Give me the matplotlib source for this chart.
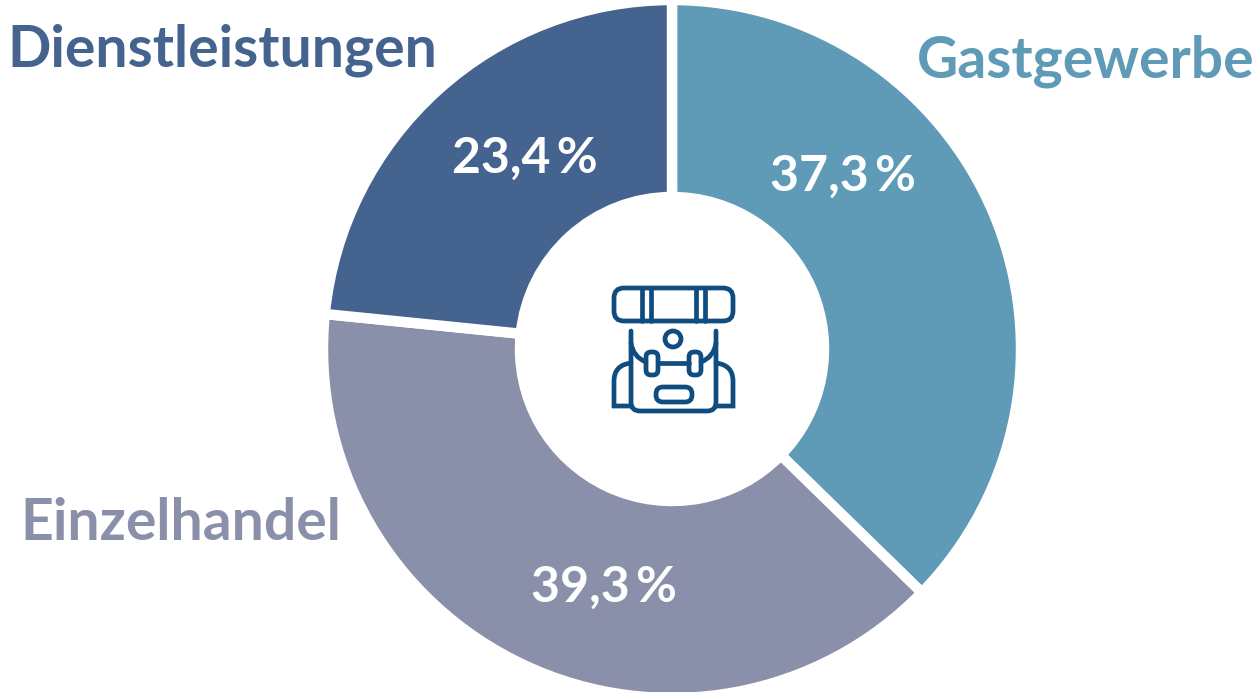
import matplotlib.pyplot as plt
from matplotlib.patches import Circle, FancyBboxPatch, PathPatch
from matplotlib.path import Path

categories = ["Gastgewerbe", "Einzelhandel", "Dienstleistungen"]
shares = [37.3, 39.3, 23.4]
share_labels = ["37,3\u2009%", "39,3\u2009%", "23,4\u2009%"]
colors = ["#5f9ab7", "#8a90a9", "#44638f"]
icon_color = "#0f4c7f"

W, H = 1255, 692
plt.rcParams["font.family"] = ["Lato", "DejaVu Sans"]

fig = plt.figure(figsize=(W / 100, H / 100), dpi=100)
ax = fig.add_axes([0, 0, 1, 1])

cx, cy, r = 672, 349, 349
hole = 152

# y axis points up, so picture rows go through this
def py(y):
    return H - y

ax.pie(shares, startangle=90, counterclock=False, center=(cx, py(cy)), radius=r,
       colors=colors, frame=False,
       wedgeprops=dict(width=r - hole, edgecolor="white", linewidth=7.5))
ax.set_xlim(0, W)
ax.set_ylim(0, H)
ax.set_aspect("auto")
ax.axis("off")

label_pos = [(843, 176), (604, 587), (525, 158)]
for txt, (x, y) in zip(share_labels, label_pos):
    ax.text(x, py(y), txt, color="white", fontsize=36, fontweight="bold", ha="center", va="center")

cat_pos = [(1086, 61), (181, 524), (222, 50)]
for cat, col, (x, y) in zip(categories, colors, cat_pos):
    ax.text(x, py(y), cat, color=col, fontsize=41, fontweight="bold", ha="center", va="center")

# backpack icon
lw = 3.4
C3 = Path.CURVE3
MT = Path.MOVETO
LT = Path.LINETO

def stroke(verts, codes=None):
    verts = [(x, py(y)) for x, y in verts]
    ax.add_patch(PathPatch(Path(verts, codes), fill=False, edgecolor=icon_color, lw=lw, capstyle="round", zorder=5))

def rbox(x0, y0, x1, y1, rad):
    ax.add_patch(FancyBboxPatch((x0, py(y1)), x1 - x0, y1 - y0, boxstyle=f"round,pad=0,rounding_size={rad}",
                                fc="white", ec=icon_color, lw=lw, zorder=4))

rbox(614, 288, 733, 321, 10)
for x in [642, 651, 696, 705]:
    stroke([(x, 288), (x, 321)])
ax.add_patch(Circle((673, py(339)), 8, fill=False, ec=icon_color, lw=lw, zorder=3))

# body with the curved flap ends
stroke([(631, 331), (631, 402), (631, 411), (640, 411), (707, 411), (716, 411), (716, 402), (716, 331)],
       [MT, LT, C3, C3, LT, C3, C3, LT])
stroke([(631, 343), (633, 357), (646, 362)], [MT, C3, C3])
stroke([(716, 343), (714, 357), (701, 362)], [MT, C3, C3])
stroke([(658, 363), (689, 363)])

rbox(646, 352, 658, 375, 5)
rbox(689, 352, 701, 375, 5)
rbox(656, 387, 692, 402, 7)

# side pockets
stroke([(631, 363), (614, 365), (614, 381), (614, 406), (631, 406)], [MT, C3, C3, LT, LT])
stroke([(716, 363), (733, 365), (733, 381), (733, 406), (716, 406)], [MT, C3, C3, LT, LT])

fig.savefig("out.png", dpi=100)
